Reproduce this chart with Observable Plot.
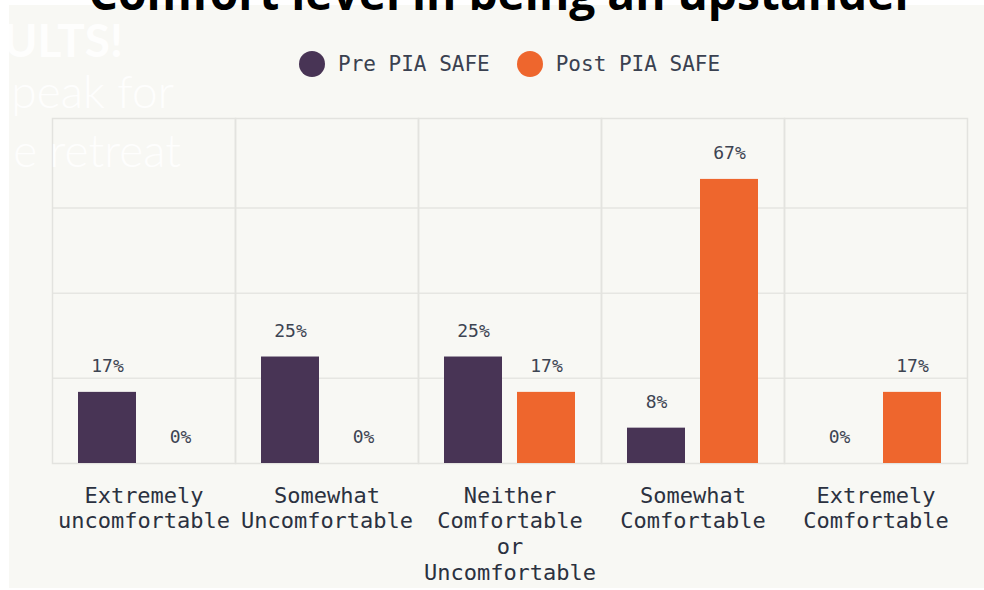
<!DOCTYPE html>
<html>
<head>
<meta charset="utf-8">
<script src="https://cdn.jsdelivr.net/npm/d3@7"></script>
<script src="https://cdn.jsdelivr.net/npm/@observablehq/plot@0.6"></script>
<style>
  html, body { margin: 0; padding: 0; background: #ffffff; }
  #stage { position: relative; width: 984px; height: 590px; overflow: hidden; }
  #panel { position: absolute; left: 9px; top: 5px; width: 975px; height: 583px; background: #f8f8f4; }
  #chart { position: absolute; left: 0; top: 0; }
  #legend { position: absolute; left: 299px; top: 51px; height: 26px; display: flex; align-items: center;
            font-family: "DejaVu Sans Mono", monospace; font-size: 21px; color: #3a4150; white-space: nowrap; }
  .item { display: flex; align-items: center; margin-right: 27px; }
  .dot { width: 26px; height: 26px; border-radius: 50%; margin-right: 13px; }
  #deco { position: absolute; left: 0; top: 0; pointer-events: none; }
</style>
</head>
<body>
<div id="stage">
  <div id="panel"></div>
  <div id="chart"></div>
  <div id="legend"></div>
  <div id="deco"></div>
</div>
<script>
// ---- data ----
const categories = [
  "Extremely uncomfortable",
  "Somewhat Uncomfortable",
  "Neither Comfortable or Uncomfortable",
  "Somewhat Comfortable",
  "Extremely Comfortable"
];
const tickLabels = [
  "Extremely\nuncomfortable",
  "Somewhat\nUncomfortable",
  "Neither\nComfortable\nor\nUncomfortable",
  "Somewhat\nComfortable",
  "Extremely\nComfortable"
];
const series = ["Pre PIA SAFE", "Post PIA SAFE"];
const preValues = [16.7, 25, 25, 8.3, 0];
const postValues = [0, 0, 16.7, 66.7, 16.7];
const colors = ["#483455", "#ee662d"];
const titleText = "Comfort level in being an upstander";
const backdropLines = ["ULTS!", "peak for", "e retreat"];

const data = categories.flatMap((c, i) => [
  {category: c, series: series[0], value: preValues[i]},
  {category: c, series: series[1], value: postValues[i]}
]);

// ---- chart ----
const chart = Plot.plot({
  width: 984,
  height: 590,
  marginTop: 118,
  marginRight: 16,
  marginBottom: 127,
  marginLeft: 50,
  style: {background: "transparent", fontFamily: "'DejaVu Sans Mono', monospace"},
  fx: {domain: categories, padding: 0},
  x: {domain: series, axis: null, paddingInner: 0.2, paddingOuter: 0.34},
  y: {domain: [0, 81], axis: null},
  color: {domain: series, range: colors},
  marks: [
    Plot.ruleY([20, 40, 60], {stroke: "#e6e6e2", strokeWidth: 1.5}),
    Plot.frame({stroke: "#e3e3df", strokeWidth: 1.5}),
    Plot.barY(data, {fx: "category", x: "series", y: "value", fill: "series"}),
    Plot.text(data, {
      fx: "category", x: "series", y: "value",
      text: d => `${Math.round(d.value)}%`,
      dy: -26, fontSize: 18, fill: "#3d4452"
    }),
    Plot.axisFx({
      anchor: "bottom",
      tickSize: 0, tickPadding: 21, fontSize: 22, lineHeight: 25.7 / 22,
      fill: "#2b3140", label: null,
      tickFormat: d => tickLabels[categories.indexOf(d)]
    })
  ]
});
document.getElementById("chart").appendChild(chart);

// ---- legend ----
const legend = d3.select("#legend");
series.forEach((s, i) => {
  const item = legend.append("div").attr("class", "item");
  item.append("div").attr("class", "dot").style("background", colors[i]);
  item.append("span").text(s);
});

// ---- overlay: background slide text and cropped title ----
const deco = d3.select("#deco").append("svg").attr("width", 984).attr("height", 590);
const backdrop = [
  {text: backdropLines[0], x: 123, y: 57, size: 46, weight: 700},
  {text: backdropLines[1], x: 174, y: 108, size: 46, weight: 300},
  {text: backdropLines[2], x: 181, y: 167, size: 46, weight: 300}
];
backdrop.forEach(b => {
  deco.append("text")
    .attr("x", b.x).attr("y", b.y)
    .attr("text-anchor", "end")
    .attr("font-family", "Lato, 'Open Sans', sans-serif")
    .attr("font-weight", b.weight)
    .attr("font-size", b.size)
    .attr("fill", "#ffffff")
    .attr("fill-opacity", 0.9)
    .text(b.text);
});
const t = deco.append("text")
  .attr("x", 502).attr("y", 10)
  .attr("text-anchor", "middle")
  .attr("font-family", "'Open Sans', sans-serif")
  .attr("font-weight", 700)
  .attr("font-size", 40)
  .attr("fill", "#000000")
  .text(titleText);
const w = t.node().getComputedTextLength();
if (w > 0) t.attr("font-size", 40 * 827 / w);
</script>
</body>
</html>
